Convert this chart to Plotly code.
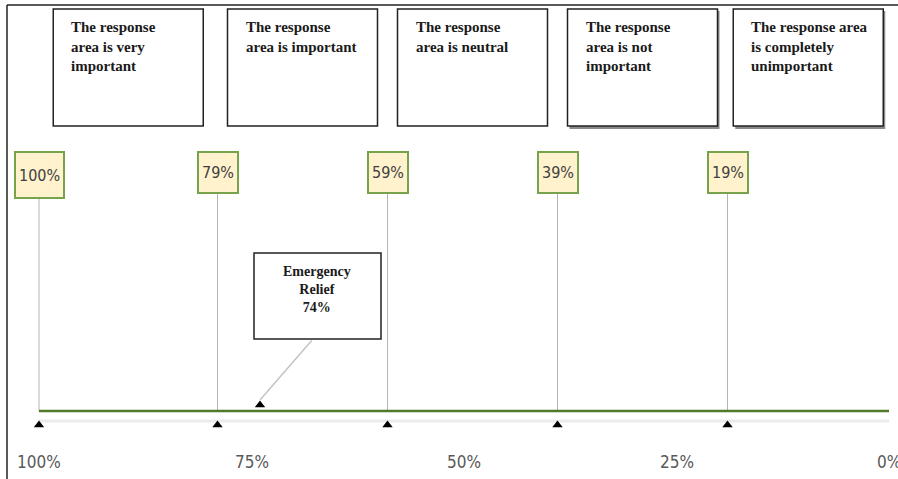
import plotly.graph_objects as go

# ---- data ----
levels = [
    "The response<br>area is very<br>important",
    "The response<br>area is important",
    "The response<br>area is neutral",
    "The response<br>area is not<br>important",
    "The response area<br>is completely<br>unimportant",
]
thresholds = [100, 79, 59, 39, 19]
threshold_labels = ["100%", "79%", "59%", "39%", "19%"]
axis_ticks = [100, 75, 50, 25, 0]
axis_tick_labels = ["100%", "75%", "50%", "25%", "0%"]
item_name = "Emergency<br>Relief"
item_value = 74

# ---- layout helpers ----
W, H = 898, 479
px_per_unit = 8.5
x100 = 39
left_val = 100 + x100 / px_per_unit
right_val = 100 - (W - x100) / px_per_unit

SERIF = "Liberation Serif, Times New Roman, serif"
NARROW = "Liberation Sans Narrow, DejaVu Sans Condensed, Arial Narrow, sans-serif"

bounds = thresholds + [0]
mids = [(bounds[i] + bounds[i + 1]) / 2 for i in range(len(levels))]

fig = go.Figure()

# vertical guide lines
vx, vy = [], []
for t in thresholds:
    vx += [t, t, None]
    vy += [165, 411, None]
fig.add_trace(go.Scatter(x=vx, y=vy, mode="lines",
                         line=dict(color="#b4b4b4", width=1), hoverinfo="skip"))

# light shadow line under scale
fig.add_trace(go.Scatter(x=[axis_ticks[0], axis_ticks[-1]], y=[421, 421], mode="lines",
                         line=dict(color="#ebebeb", width=3), hoverinfo="skip"))
# green scale line
fig.add_trace(go.Scatter(x=[axis_ticks[0], axis_ticks[-1]], y=[411, 411], mode="lines",
                         line=dict(color="#4f7a2c", width=2.5), hoverinfo="skip"))
# threshold triangles
fig.add_trace(go.Scatter(x=thresholds, y=[425] * len(thresholds), mode="markers",
                         marker=dict(symbol="triangle-up", size=9, color="black"),
                         hoverinfo="skip"))
# item triangle
fig.add_trace(go.Scatter(x=[item_value], y=[405], mode="markers",
                         marker=dict(symbol="triangle-up", size=9, color="black"),
                         hoverinfo="skip"))

shapes = []
annotations = []

# frame lines
shapes.append(dict(type="line", xref="paper", yref="y", x0=7 / W, x1=1, y0=5, y1=5,
                   line=dict(color="#222222", width=1.5)))
shapes.append(dict(type="line", xref="paper", yref="y", x0=7 / W, x1=7 / W, y0=5, y1=H,
                   line=dict(color="#222222", width=1.5)))

# level boxes
for i, (m, txt) in enumerate(zip(mids, levels)):
    if i >= 3:
        shapes.append(dict(type="rect", xref="x", yref="y", xsizemode="pixel", xanchor=m,
                           x0=-73, x1=77, y0=11, y1=129,
                           line=dict(width=0), fillcolor="#8a8a8a", layer="below"))
    shapes.append(dict(type="rect", xref="x", yref="y", xsizemode="pixel", xanchor=m,
                       x0=-75, x1=75, y0=9, y1=126,
                       line=dict(color="#222222", width=1.5), fillcolor="white", layer="below"))
    annotations.append(dict(x=m, y=17, xref="x", yref="y", xanchor="left", yanchor="top",
                            xshift=-59, showarrow=False, align="left",
                            text="<b>" + txt + "</b>",
                            font=dict(family=SERIF, size=15, color="#1a1a1a")))

# threshold labels
for t, lab in zip(thresholds, threshold_labels):
    annotations.append(dict(x=t, y=151, xref="x", yref="y", xanchor="center", yanchor="top",
                            showarrow=False, text=lab,
                            bgcolor="#fff2cc", bordercolor="#77a34c", borderwidth=2,
                            borderpad=3, height=38 if len(lab) > 3 else 33,
                            font=dict(family=NARROW, size=16, color="#404040")))

# axis tick labels
for t, lab in zip(axis_ticks, axis_tick_labels):
    annotations.append(dict(x=t, y=462, xref="x", yref="y", xanchor="center", yanchor="middle",
                            showarrow=False, text=lab,
                            font=dict(family=NARROW, size=17, color="#595959")))

# item callout
shapes.append(dict(type="rect", xref="x", yref="y", xsizemode="pixel", xanchor=item_value,
                   x0=-6, x1=121, y0=253, y1=339,
                   line=dict(color="#222222", width=1.5), fillcolor="white", layer="below"))
annotations.append(dict(x=item_value, y=262, xref="x", yref="y", xanchor="center", yanchor="top",
                        xshift=57, showarrow=False, align="center",
                        text="<b>" + item_name + "<br>" + f"{item_value}%" + "</b>",
                        font=dict(family=SERIF, size=14, color="#1a1a1a")))
annotations.append(dict(x=item_value, y=400, xref="x", yref="y", text="", showarrow=True,
                        arrowhead=0, arrowwidth=1.5, arrowcolor="#c4c4c4",
                        ax=53, ay=-61))

fig.update_layout(
    width=W, height=H,
    margin=dict(l=0, r=0, t=0, b=0),
    paper_bgcolor="white", plot_bgcolor="white",
    showlegend=False, hovermode=False,
    xaxis=dict(range=[left_val, right_val], visible=False, fixedrange=True),
    yaxis=dict(range=[H, 0], visible=False, fixedrange=True),
    shapes=shapes, annotations=annotations,
)

fig.write_html("out.html", config={"displayModeBar": False},
               post_script="document.body.style.margin='0';document.body.style.padding='0';")
